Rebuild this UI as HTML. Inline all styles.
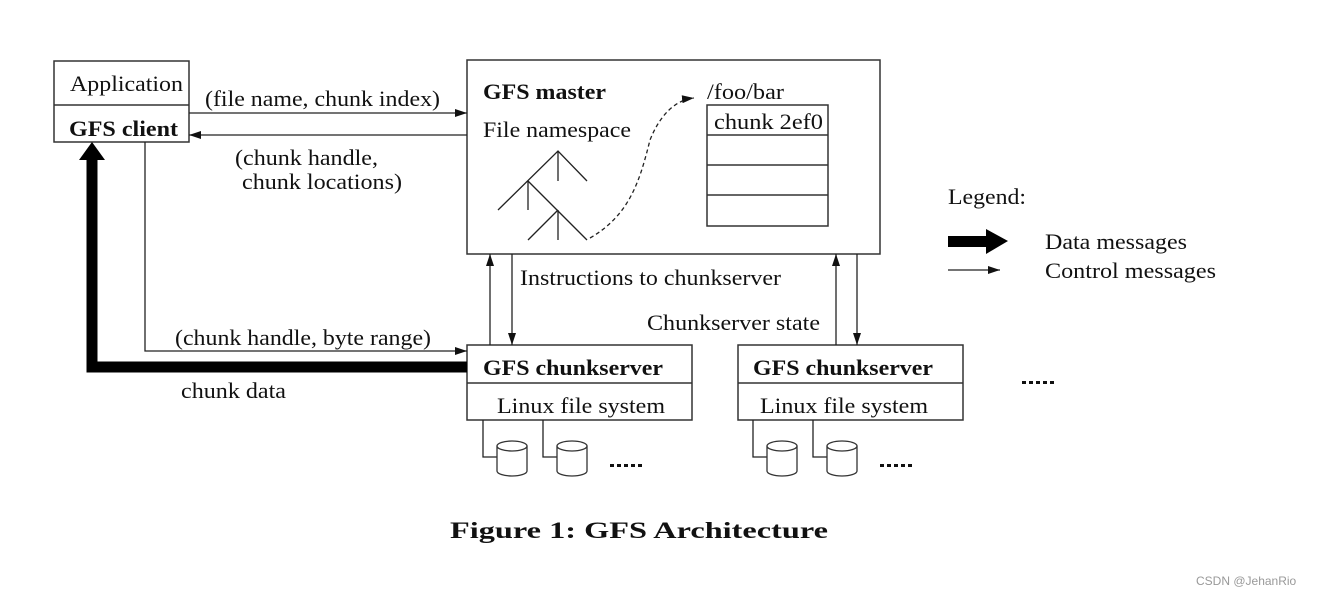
<!DOCTYPE html>
<html><head><meta charset="utf-8"><style>
html,body{margin:0;padding:0;background:#fff;}
svg{display:block;}
text{font-family:"Liberation Serif",serif;font-size:22px;fill:#111;}
.b{font-weight:bold;}
</style></head><body>
<svg width="1319" height="596" viewBox="0 0 1319 596" xmlns="http://www.w3.org/2000/svg">
<defs>
<marker id="a" markerWidth="12" markerHeight="8" refX="12" refY="4" orient="auto" markerUnits="userSpaceOnUse"><path d="M0,0 L12,4 L0,8 z" fill="#111"/></marker>
</defs>
<g stroke="#333" stroke-width="1.5" fill="none">
<rect x="54" y="61" width="135" height="81"/>
<line x1="54" y1="105" x2="189" y2="105"/>
<rect x="467" y="60" width="413" height="194"/>
<rect x="467" y="345" width="225" height="75"/>
<line x1="467" y1="383" x2="692" y2="383"/>
<rect x="738" y="345" width="225" height="75"/>
<line x1="738" y1="383" x2="963" y2="383"/>
<rect x="707" y="105" width="121" height="121"/>
<line x1="707" y1="135" x2="828" y2="135"/>
<line x1="707" y1="165" x2="828" y2="165"/>
<line x1="707" y1="195" x2="828" y2="195"/>
</g>
<g stroke="#222" stroke-width="1.3" fill="none">
<line x1="189" y1="113" x2="467" y2="113" marker-end="url(#a)"/>
<line x1="467" y1="135" x2="189" y2="135" marker-end="url(#a)"/>
<polyline points="145,142 145,351 467,351" marker-end="url(#a)"/>
<line x1="490" y1="345" x2="490" y2="254" marker-end="url(#a)"/>
<line x1="512" y1="254" x2="512" y2="345" marker-end="url(#a)"/>
<line x1="836" y1="345" x2="836" y2="254" marker-end="url(#a)"/>
<line x1="857" y1="254" x2="857" y2="345" marker-end="url(#a)"/>
<line x1="948" y1="270" x2="1000" y2="270" marker-end="url(#a)"/>
<polyline points="498,210 558,151 587,181"/>
<line x1="558" y1="151" x2="558" y2="181"/>
<line x1="528" y1="181" x2="528" y2="210"/>
<line x1="528" y1="181" x2="587" y2="240"/>
<line x1="558" y1="210" x2="528" y2="240"/>
<line x1="558" y1="210" x2="558" y2="240"/>
<path d="M590,238 C630,215 640,180 650,140 C660,115 675,100 694,98" stroke-dasharray="4,3" marker-end="url(#a)"/>
<polyline points="483,420 483,457 497,457"/>
<polyline points="543,420 543,457 557,457"/>
<polyline points="753,420 753,457 767,457"/>
<polyline points="813,420 813,457 827,457"/>
</g>
<g stroke="#333" stroke-width="1.3" fill="#fff">
<path d="M497,446 L497,471 A15,5 0 0 0 527,471 L527,446"/><ellipse cx="512" cy="446" rx="15" ry="5"/>
<path d="M557,446 L557,471 A15,5 0 0 0 587,471 L587,446"/><ellipse cx="572" cy="446" rx="15" ry="5"/>
<path d="M767,446 L767,471 A15,5 0 0 0 797,471 L797,446"/><ellipse cx="782" cy="446" rx="15" ry="5"/>
<path d="M827,446 L827,471 A15,5 0 0 0 857,471 L857,446"/><ellipse cx="842" cy="446" rx="15" ry="5"/>
</g>
<polyline points="467,367 92,367 92,158" stroke="#000" stroke-width="11" fill="none"/>
<path d="M79,160 L92,142 L105,160 z" fill="#000"/>
<rect x="948" y="236" width="40" height="11" fill="#000"/>
<path d="M986,229 L1008,241 L986,254 z" fill="#000"/>
<g fill="#111">
<rect x="610" y="464" width="4" height="3"/><rect x="617" y="464" width="4" height="3"/><rect x="624" y="464" width="4" height="3"/><rect x="631" y="464" width="4" height="3"/><rect x="638" y="464" width="4" height="3"/>
<rect x="880" y="464" width="4" height="3"/><rect x="887" y="464" width="4" height="3"/><rect x="894" y="464" width="4" height="3"/><rect x="901" y="464" width="4" height="3"/><rect x="908" y="464" width="4" height="3"/>
<rect x="1022" y="381" width="4" height="3"/><rect x="1029" y="381" width="4" height="3"/><rect x="1036" y="381" width="4" height="3"/><rect x="1043" y="381" width="4" height="3"/><rect x="1050" y="381" width="4" height="3"/>
</g>
<text x="70" y="91" textLength="113" lengthAdjust="spacingAndGlyphs">Application</text>
<text x="69" y="136" class="b" textLength="109" lengthAdjust="spacingAndGlyphs">GFS client</text>
<text x="205" y="106" textLength="235" lengthAdjust="spacingAndGlyphs">(file name, chunk index)</text>
<text x="235" y="165" textLength="143" lengthAdjust="spacingAndGlyphs">(chunk handle,</text>
<text x="242" y="189" textLength="160" lengthAdjust="spacingAndGlyphs">chunk locations)</text>
<text x="483" y="99" class="b" textLength="123" lengthAdjust="spacingAndGlyphs">GFS master</text>
<text x="483" y="137" textLength="148" lengthAdjust="spacingAndGlyphs">File namespace</text>
<text x="707" y="99" textLength="77" lengthAdjust="spacingAndGlyphs">/foo/bar</text>
<text x="714" y="129" textLength="109" lengthAdjust="spacingAndGlyphs">chunk 2ef0</text>
<text x="948" y="204" textLength="78" lengthAdjust="spacingAndGlyphs">Legend:</text>
<text x="1045" y="249" textLength="142" lengthAdjust="spacingAndGlyphs">Data messages</text>
<text x="1045" y="278" textLength="171" lengthAdjust="spacingAndGlyphs">Control messages</text>
<text x="520" y="285" textLength="261" lengthAdjust="spacingAndGlyphs">Instructions to chunkserver</text>
<text x="647" y="330" textLength="173" lengthAdjust="spacingAndGlyphs">Chunkserver state</text>
<text x="175" y="345" textLength="256" lengthAdjust="spacingAndGlyphs">(chunk handle, byte range)</text>
<text x="181" y="398" textLength="105" lengthAdjust="spacingAndGlyphs">chunk data</text>
<text x="483" y="375" class="b" textLength="180" lengthAdjust="spacingAndGlyphs">GFS chunkserver</text>
<text x="497" y="413" textLength="168" lengthAdjust="spacingAndGlyphs">Linux file system</text>
<text x="753" y="375" class="b" textLength="180" lengthAdjust="spacingAndGlyphs">GFS chunkserver</text>
<text x="760" y="413" textLength="168" lengthAdjust="spacingAndGlyphs">Linux file system</text>
<text x="450" y="538" class="b" style="font-size:23px" textLength="378" lengthAdjust="spacingAndGlyphs">Figure 1:  GFS Architecture</text>
<text x="1196" y="585" style="font-family:'Liberation Sans',sans-serif;font-size:12px;fill:#999">CSDN @JehanRio</text>
</svg>
</body></html>
